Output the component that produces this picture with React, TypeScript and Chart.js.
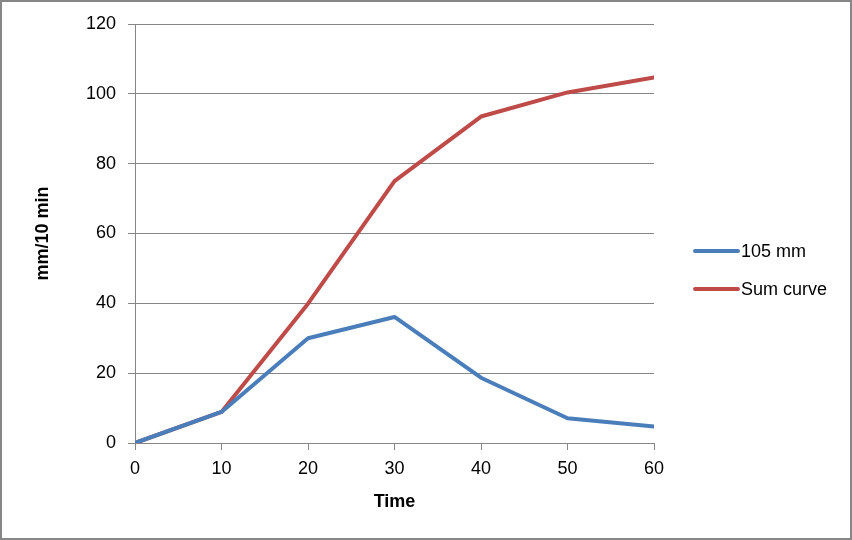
import React, { useEffect, useRef } from "react";
import { Chart, registerables } from "chart.js";

Chart.register(...registerables);

const timeLabels = [0, 10, 20, 30, 40, 50, 60];
const series105 = [0, 8.9, 30, 36.1, 18.7, 7.1, 4.7];
const sumCurve = [0, 8.9, 39.9, 75, 93.5, 100.4, 104.7];
const seriesNames = ["105 mm", "Sum curve"];
const seriesColors = ["#4A7EBB", "#BE4B48"];
const yTitle = "mm/10 min";
const xTitle = "Time";

const FONT = "'Liberation Sans', Arial, sans-serif";
const GRID = "#868686";

const legendAndBorder = {
  id: "legendAndBorder",
  afterDraw(chart: any) {
    const ctx = chart.ctx;
    const area = chart.chartArea;
    ctx.save();
    // outer border
    ctx.strokeStyle = "#868686";
    ctx.lineWidth = 2;
    ctx.strokeRect(1, 1, chart.width - 2, chart.height - 2);
    // legend
    const n = chart.data.datasets.length;
    const rowGap = 38;
    const cy = chart.height / 2;
    const x0 = area.right + 41;
    ctx.font = "18px " + FONT;
    ctx.textBaseline = "middle";
    ctx.textAlign = "left";
    chart.data.datasets.forEach((ds: any, i: number) => {
      const y = cy + (i - (n - 1) / 2) * rowGap;
      ctx.strokeStyle = ds.borderColor;
      ctx.lineWidth = 4;
      ctx.lineCap = "round";
      ctx.beginPath();
      ctx.moveTo(x0, y);
      ctx.lineTo(x0 + 43, y);
      ctx.stroke();
      ctx.fillStyle = "#000";
      ctx.fillText(ds.label, x0 + 46, y + 1);
    });
    ctx.restore();
  },
};

export default function App() {
  const ref = useRef<HTMLCanvasElement | null>(null);
  useEffect(() => {
    if (!ref.current) return;
    const chart = new Chart(ref.current, {
      type: "line",
      data: {
        labels: timeLabels,
        datasets: [
          {
            label: seriesNames[0],
            data: timeLabels.map((t, i) => ({ x: t, y: series105[i] })),
            borderColor: seriesColors[0],
            backgroundColor: seriesColors[0],
            borderWidth: 4,
            pointRadius: 0,
            tension: 0,
            borderJoinStyle: "round",
            borderCapStyle: "round",
          },
          {
            label: seriesNames[1],
            data: timeLabels.map((t, i) => ({ x: t, y: sumCurve[i] })),
            borderColor: seriesColors[1],
            backgroundColor: seriesColors[1],
            borderWidth: 4,
            pointRadius: 0,
            tension: 0,
            borderJoinStyle: "round",
            borderCapStyle: "round",
          },
        ],
      },
      options: {
        responsive: false,
        animation: false,
        layout: { padding: { left: 32, top: 24, right: 198, bottom: 27 } },
        plugins: {
          legend: { display: false },
          tooltip: { enabled: false },
        },
        scales: {
          x: {
            type: "linear",
            min: 0,
            max: 60,
            afterFit: (s: any) => {
              s.height = 70;
            },
            ticks: {
              stepSize: 10,
              color: "#000",
              padding: 8,
              font: { family: FONT, size: 18 },
              maxRotation: 0,
            },
            grid: {
              drawOnChartArea: false,
              drawTicks: true,
              tickLength: 7,
              color: GRID,
            },
            border: { display: true, color: GRID, width: 1 },
            title: {
              display: true,
              text: xTitle,
              color: "#000",
              font: { family: FONT, size: 18, weight: "bold" },
              padding: 0,
            },
          },
          y: {
            type: "linear",
            min: 0,
            max: 120,
            afterFit: (s: any) => {
              s.width = 103;
            },
            ticks: {
              stepSize: 20,
              color: "#000",
              padding: 12,
              font: { family: FONT, size: 18 },
            },
            grid: {
              color: GRID,
              drawTicks: true,
              tickLength: 7,
            },
            border: { display: true, color: GRID, width: 1 },
            title: {
              display: true,
              text: yTitle,
              color: "#000",
              font: { family: FONT, size: 18, weight: "bold" },
              padding: 0,
            },
          },
        },
      },
      plugins: [legendAndBorder],
    } as any);
    return () => chart.destroy();
  }, []);

  return (
    <div style={{ position: "absolute", left: 0, top: 0, width: 852, height: 540, background: "#fff" }}>
      <canvas ref={ref} width={852} height={540} style={{ display: "block" }} />
    </div>
  );
}
